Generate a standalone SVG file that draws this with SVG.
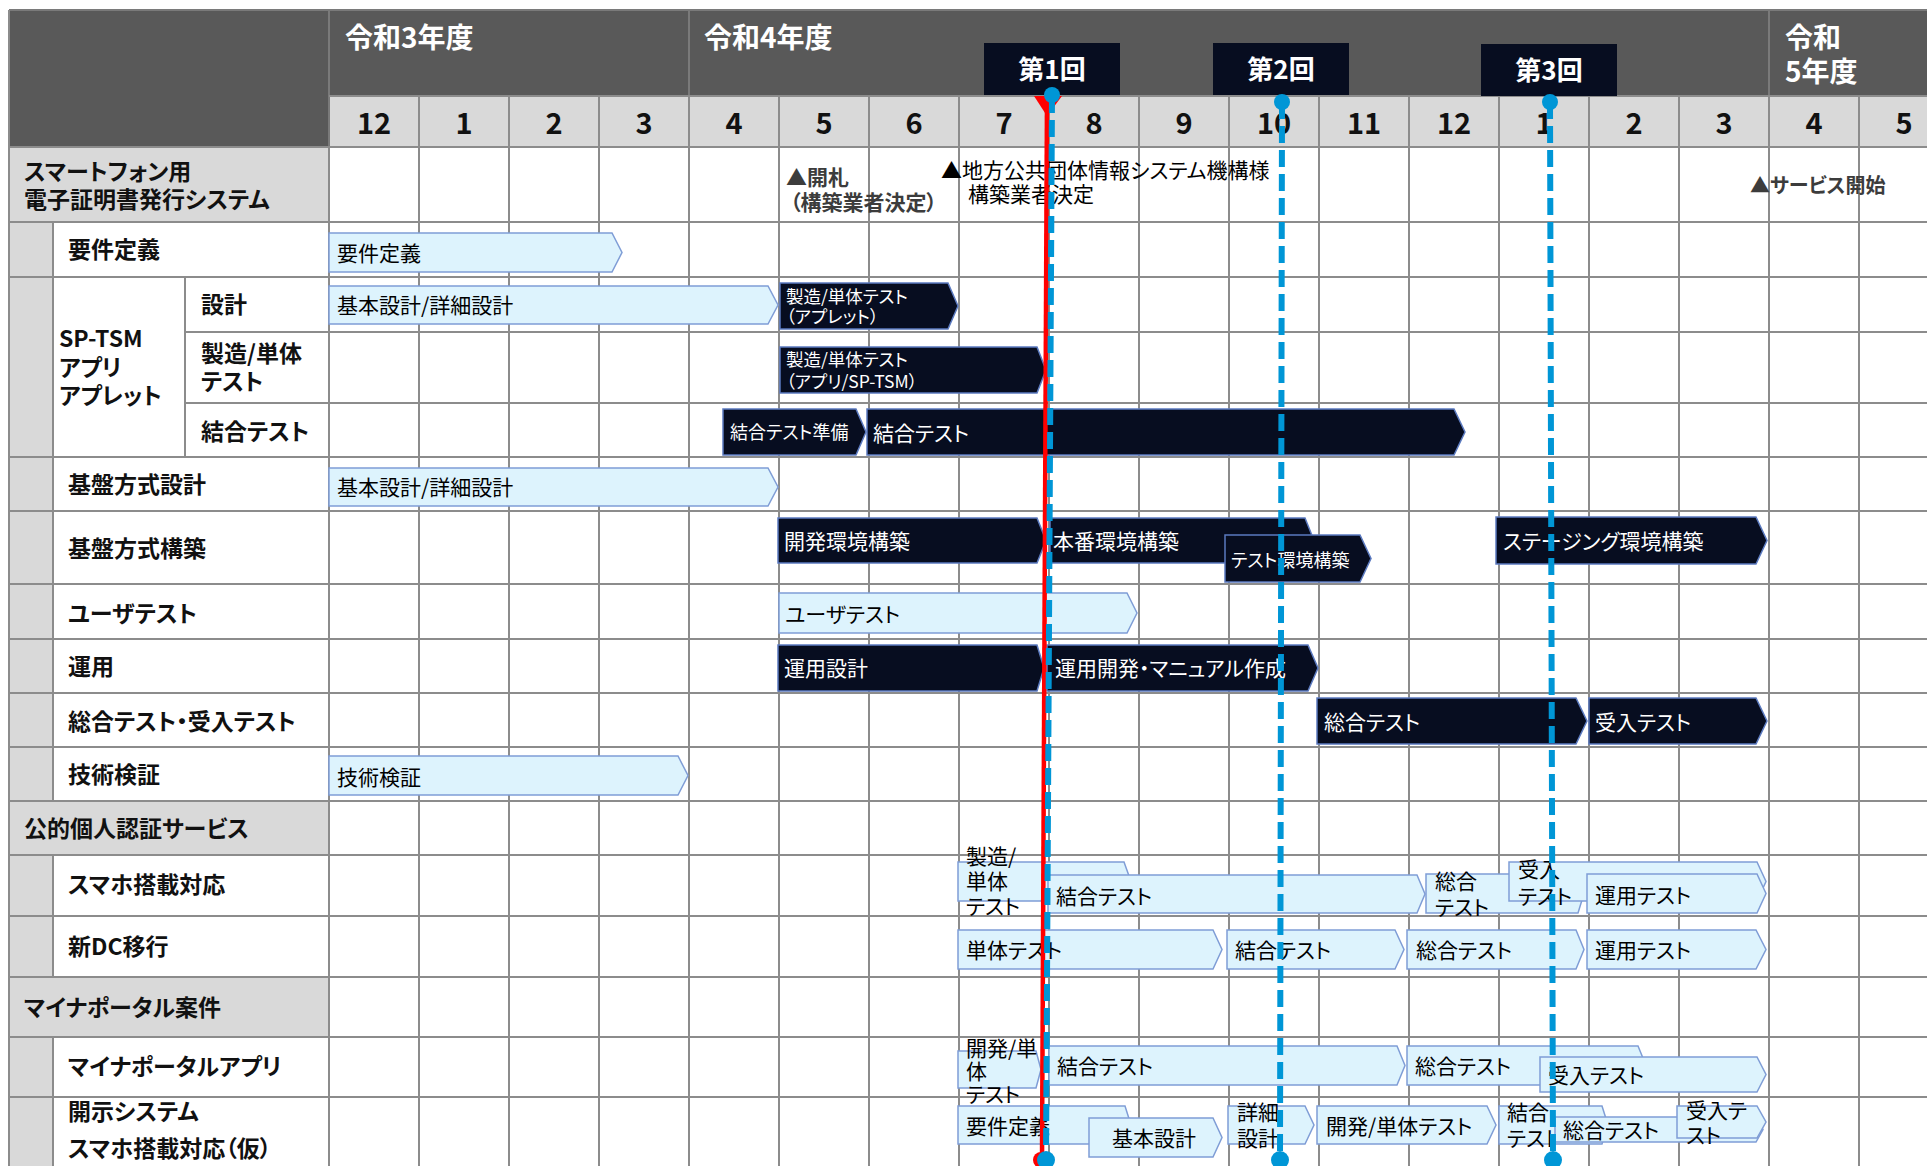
<svg xmlns="http://www.w3.org/2000/svg" width="1927" height="1166" viewBox="0 0 1927 1166">
<style>
text{font-family:"Noto Sans CJK JP","Noto Sans",sans-serif;font-feature-settings:"palt"}
.g{stroke:#8c8c8c;stroke-width:2;fill:none}
.gh{stroke:#7a7a7a;stroke-width:2;fill:none}
.lb{fill:#ddf3fd;stroke:#7f9dd6;stroke-width:1.5}
.db{fill:#070d20;stroke:#5b7ac0;stroke-width:1.5}
.lbl{font-size:23px;font-weight:bold;fill:#111}
.bt{font-size:21px;fill:#000}
.wt{font-size:21px;fill:#fff}
.ws{font-size:17.5px;fill:#fff}
.mon{font-size:29px;font-weight:bold;fill:#111;text-anchor:middle}
.yr{font-size:28px;font-weight:bold;fill:#fff}
.rnd{font-size:26px;font-weight:bold;fill:#fff;text-anchor:middle}
.ann{font-size:21px;font-weight:bold;fill:#3c3c3c}
.ann2{font-size:21px;fill:#000}
.blue{stroke:#0096d6;stroke-width:6;stroke-dasharray:17 7;fill:none}
</style>

<!-- header -->
<g id="header">
<rect x="9" y="10" width="1918" height="86" fill="#595959"/>
<rect x="9" y="10" width="320" height="137" fill="#595959"/>
<rect x="329" y="96" width="1598" height="51" fill="#d9d9d9"/>
<line class="gh" x1="9" y1="10" x2="1927" y2="10"/>
<line class="gh" x1="329" y1="10" x2="329" y2="147"/>
<line class="gh" x1="689" y1="10" x2="689" y2="96"/>
<line class="gh" x1="1769" y1="10" x2="1769" y2="96"/>
<line class="g" x1="329" y1="96" x2="1927" y2="96"/>
<text class="yr" x="345" y="48">令和3年度</text>
<text class="yr" x="704" y="48">令和4年度</text>
<text class="yr" x="1785" y="48">令和</text>
<text class="yr" x="1785" y="82">5年度</text>
<text class="mon" x="374" y="134">12</text>
<text class="mon" x="464" y="134">1</text>
<text class="mon" x="554" y="134">2</text>
<text class="mon" x="644" y="134">3</text>
<text class="mon" x="734" y="134">4</text>
<text class="mon" x="824" y="134">5</text>
<text class="mon" x="914" y="134">6</text>
<text class="mon" x="1004" y="134">7</text>
<text class="mon" x="1094" y="134">8</text>
<text class="mon" x="1184" y="134">9</text>
<text class="mon" x="1274" y="134">10</text>
<text class="mon" x="1364" y="134">11</text>
<text class="mon" x="1454" y="134">12</text>
<text class="mon" x="1544" y="134">1</text>
<text class="mon" x="1634" y="134">2</text>
<text class="mon" x="1724" y="134">3</text>
<text class="mon" x="1814" y="134">4</text>
<text class="mon" x="1904" y="134">5</text>
</g>

<!-- left column fills -->
<g id="left-fills">
<rect x="9" y="147" width="320" height="75" fill="#d9d9d9"/>
<rect x="9" y="801" width="320" height="54" fill="#d9d9d9"/>
<rect x="9" y="977" width="320" height="60" fill="#d9d9d9"/>
<rect x="9" y="222" width="44" height="579" fill="#d9d9d9"/>
<rect x="9" y="855" width="44" height="122" fill="#d9d9d9"/>
<rect x="9" y="1037" width="44" height="129" fill="#d9d9d9"/>
</g>

<!-- grid -->
<g id="grid" class="g">
<path d="M419 96V1166M509 96V1166M599 96V1166M689 96V1166M779 96V1166M869 96V1166M959 96V1166M1049 96V1166M1139 96V1166M1229 96V1166M1319 96V1166M1409 96V1166M1499 96V1166M1589 96V1166M1679 96V1166M1769 96V1166M1859 96V1166"/>
<path d="M329 147V1166M9 10V1166M53 222V801M53 855V977M53 1037V1166M185 277V457"/>
<path d="M9 147H1927M9 222H1927M9 277H1927M185 332H1927M185 403H1927M9 457H1927M9 511H1927M9 584H1927M9 639H1927M9 693H1927M9 747H1927M9 801H1927M9 855H1927M9 916H1927M9 977H1927M9 1037H1927M9 1097H1927"/>
</g>

<!-- row labels -->
<g id="row-labels">
<text class="lbl" x="24" y="180">スマートフォン用</text>
<text class="lbl" x="24" y="208">電子証明書発行システム</text>
<text class="lbl" x="68" y="258">要件定義</text>
<text class="lbl" x="59" y="347">SP-TSM</text>
<text class="lbl" x="59" y="376">アプリ</text>
<text class="lbl" x="59" y="404">アプレット</text>
<text class="lbl" x="201" y="313">設計</text>
<text class="lbl" x="201" y="362">製造/単体</text>
<text class="lbl" x="201" y="390">テスト</text>
<text class="lbl" x="201" y="440">結合テスト</text>
<text class="lbl" x="68" y="493">基盤方式設計</text>
<text class="lbl" x="68" y="557">基盤方式構築</text>
<text class="lbl" x="68" y="622">ユーザテスト</text>
<text class="lbl" x="68" y="675">運用</text>
<text class="lbl" x="68" y="730">総合テスト・受入テスト</text>
<text class="lbl" x="68" y="783">技術検証</text>
<text class="lbl" x="24" y="837">公的個人認証サービス</text>
<text class="lbl" x="68" y="893">スマホ搭載対応</text>
<text class="lbl" x="68" y="955">新DC移行</text>
<text class="lbl" x="24" y="1016">マイナポータル案件</text>
<text class="lbl" x="68" y="1075">マイナポータルアプリ</text>
<text class="lbl" x="68" y="1120">開示システム</text>
<text class="lbl" x="68" y="1157">スマホ搭載対応（仮）</text>
</g>

<!-- milestone annotations -->
<g id="annotations">
<text class="ann" x="786" y="185">▲開札</text>
<text class="ann" x="790" y="210">（構築業者決定）</text>
<text class="ann2" x="941" y="178">▲地方公共団体情報システム機構様</text>
<text class="ann2" x="968" y="202">構築業者決定</text>
<text class="ann" x="1750" y="193" style="font-size:20px">▲サービス開始</text>
</g>

<!-- bars -->
<g id="bar-req"><path class="lb" d="M329 233H612L622 252.5L612 272H329Z"/><text class="bt" x="337" y="261">要件定義</text></g>
<g id="bar-design"><path class="lb" d="M329 286H768L778 305L768 324H329Z"/><text class="bt" x="337" y="313">基本設計/詳細設計</text></g>
<g id="bar-mfg-applet"><path class="db" d="M780 283H948L958 306L948 329H780Z"/><text class="ws" x="786" y="303">製造/単体テスト</text><text class="ws" x="786" y="323">（アプレット）</text></g>
<g id="bar-mfg-app"><path class="db" d="M780 347H1037L1046 370L1037 393H780Z"/><text class="ws" x="786" y="366">製造/単体テスト</text><text class="ws" x="786" y="388">（アプリ/SP-TSM）</text></g>
<g id="bar-integ-prep"><path class="db" d="M723 409H856L866 432L856 455H723Z"/><text class="wt" x="730" y="439" style="font-size:18px">結合テスト準備</text></g>
<g id="bar-integ"><path class="db" d="M867 409H1454L1465 432L1454 455H867Z"/><text class="wt" x="873" y="441">結合テスト</text></g>
<g id="bar-infra-design"><path class="lb" d="M329 468H768L778 487L768 506H329Z"/><text class="bt" x="337" y="495">基本設計/詳細設計</text></g>
<g id="bar-dev-env"><path class="db" d="M778 518H1037L1046 540.5L1037 563H778Z"/><text class="wt" x="784" y="549">開発環境構築</text></g>
<g id="bar-prod-env"><path class="db" d="M1050 518H1305L1314 540.5L1305 563H1050Z"/><text class="wt" x="1053" y="549">本番環境構築</text></g>
<g id="bar-test-env"><path class="db" d="M1225 535H1360L1371 558.5L1360 582H1225Z"/><text class="wt" x="1231" y="567" style="font-size:18px">テスト環境構築</text></g>
<g id="bar-staging"><path class="db" d="M1496 517H1756L1767 540.5L1756 564H1496Z"/><text class="wt" x="1503" y="549">ステージング環境構築</text></g>
<g id="bar-user-test"><path class="lb" d="M779 593H1127L1137 613L1127 633H779Z"/><text class="bt" x="785" y="622">ユーザテスト</text></g>
<g id="bar-ops-design"><path class="db" d="M778 645H1037L1044 668L1037 691H778Z"/><text class="wt" x="784" y="676">運用設計</text></g>
<g id="bar-ops-dev"><path class="db" d="M1047 645H1308L1318 668L1308 691H1047Z"/><text class="wt" x="1055" y="676">運用開発・マニュアル作成</text></g>
<g id="bar-sys-test"><path class="db" d="M1317 698H1576L1587 721L1576 744H1317Z"/><text class="wt" x="1324" y="730">総合テスト</text></g>
<g id="bar-accept"><path class="db" d="M1589 698H1756L1767 721L1756 744H1589Z"/><text class="wt" x="1595" y="730">受入テスト</text></g>
<g id="bar-tech"><path class="lb" d="M329 756H678L688 775.5L678 795H329Z"/><text class="bt" x="337" y="785">技術検証</text></g>

<g id="bar-s-mfg"><path class="lb" d="M958 862H1124L1131 881.5L1124 901H958Z"/><text class="bt" x="966" y="864">製造/</text><text class="bt" x="966" y="889">単体</text><text class="bt" x="966" y="914">テスト</text></g>
<g id="bar-s-integ"><path class="lb" d="M1048 875H1417L1425 894L1417 913H1048Z"/><text class="bt" x="1056" y="904">結合テスト</text></g>
<g id="bar-s-sys"><path class="lb" d="M1426 874H1578L1584 893.5L1578 913H1426Z"/><text class="bt" x="1435" y="889">総合</text><text class="bt" x="1435" y="915">テスト</text></g>
<g id="bar-s-acc"><path class="lb" d="M1509 862H1757L1766 881.5L1757 901H1509Z"/><text class="bt" x="1518" y="877">受入</text><text class="bt" x="1518" y="904">テスト</text></g>
<g id="bar-s-ops"><path class="lb" d="M1587 874H1757L1766 893.5L1757 913H1587Z"/><text class="bt" x="1595" y="903">運用テスト</text></g>

<g id="bar-d-unit"><path class="lb" d="M958 930H1213L1222 949.5L1213 969H958Z"/><text class="bt" x="966" y="958">単体テスト</text></g>
<g id="bar-d-integ"><path class="lb" d="M1227 930H1395L1404 949.5L1395 969H1227Z"/><text class="bt" x="1235" y="958">結合テスト</text></g>
<g id="bar-d-sys"><path class="lb" d="M1407 930H1576L1584 949.5L1576 969H1407Z"/><text class="bt" x="1416" y="958">総合テスト</text></g>
<g id="bar-d-ops"><path class="lb" d="M1587 930H1756L1766 949.5L1756 969H1587Z"/><text class="bt" x="1595" y="958">運用テスト</text></g>

<g id="bar-m-dev"><path class="lb" d="M958 1051H1036L1041 1069.5L1036 1088H958Z"/><text class="bt" x="966" y="1056">開発/単</text><text class="bt" x="966" y="1079">体</text><text class="bt" x="966" y="1102">テスト</text></g>
<g id="bar-m-integ"><path class="lb" d="M1049 1046H1397L1405 1065.5L1397 1085H1049Z"/><text class="bt" x="1057" y="1074">結合テスト</text></g>
<g id="bar-m-sys"><path class="lb" d="M1407 1046H1638L1646 1065.5L1638 1085H1407Z"/><text class="bt" x="1415" y="1074">総合テスト</text></g>
<g id="bar-m-acc"><path class="lb" d="M1540 1057H1757L1766 1074.5L1757 1092H1540Z"/><text class="bt" x="1548" y="1083">受入テスト</text></g>

<g id="bar-k-req"><path class="lb" d="M958 1106H1125L1131 1125L1125 1144H958Z"/><text class="bt" x="966" y="1134">要件定義</text></g>
<g id="bar-k-basic"><path class="lb" d="M1089 1118H1213L1222 1137.5L1213 1157H1089Z"/><text class="bt" x="1112" y="1146">基本設計</text></g>
<g id="bar-k-detail"><path class="lb" d="M1228 1106H1305L1314 1125L1305 1144H1228Z"/><text class="bt" x="1237" y="1120">詳細</text><text class="bt" x="1237" y="1146">設計</text></g>
<g id="bar-k-dev"><path class="lb" d="M1317 1106H1487L1496 1125L1487 1144H1317Z"/><text class="bt" x="1326" y="1134">開発/単体テスト</text></g>
<g id="bar-k-integ"><path class="lb" d="M1499 1106H1602L1608 1125L1602 1144H1499Z"/><text class="bt" x="1507" y="1120">結合</text><text class="bt" x="1507" y="1146">テスト</text></g>
<g id="bar-k-sys"><path class="lb" d="M1555 1117H1756L1763 1129.5L1756 1142H1555Z"/><text class="bt" x="1563" y="1138">総合テスト</text></g>
<g id="bar-k-acc"><path class="lb" d="M1677 1106H1757L1766 1122L1757 1138H1677Z"/><text class="bt" x="1686" y="1118">受入テ</text><text class="bt" x="1686" y="1143">スト</text></g>

<!-- review markers and lines -->
<g id="round-labels">
<rect x="984" y="43" width="136" height="52" fill="#070d20"/>
<text class="rnd" x="1052" y="79">第1回</text>
<rect x="1213" y="43" width="136" height="52" fill="#070d20"/>
<text class="rnd" x="1281" y="79">第2回</text>
<rect x="1481" y="44" width="136" height="52" fill="#070d20"/>
<text class="rnd" x="1549" y="80">第3回</text>
</g>
<g id="connectors">
<polygon points="1034,96 1062,96 1047,116" fill="#ff0000"/>
<line x1="1047" y1="96" x2="1042" y2="1160" stroke="#ff0000" stroke-width="4.5"/>
<circle cx="1041" cy="1160" r="8" fill="#ff0000"/>
<line class="blue" x1="1052" y1="96" x2="1046" y2="1160"/>
<line class="blue" x1="1282" y1="102" x2="1280" y2="1160"/>
<line class="blue" x1="1550" y1="102" x2="1553" y2="1160"/>
<circle cx="1052" cy="95" r="8" fill="#0096d6"/>
<circle cx="1282" cy="102" r="8" fill="#0096d6"/>
<circle cx="1550" cy="102" r="8" fill="#0096d6"/>
<circle cx="1046" cy="1160" r="9" fill="#0096d6"/>
<circle cx="1280" cy="1160" r="9" fill="#0096d6"/>
<circle cx="1553" cy="1160" r="9" fill="#0096d6"/>
</g>
</svg>
